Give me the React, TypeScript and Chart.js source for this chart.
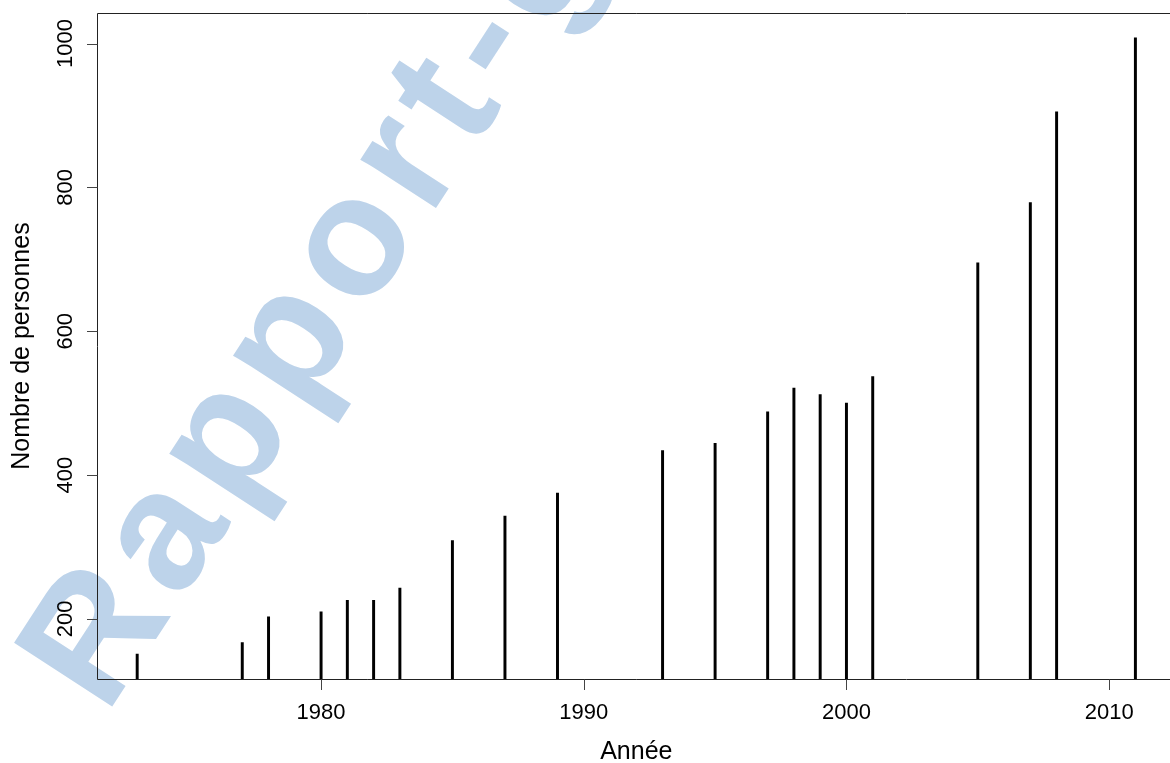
import React, { useEffect, useRef } from 'react';
import { Chart, registerables } from 'chart.js';

Chart.register(...registerables);

const years = [1973, 1977, 1978, 1980, 1981, 1982, 1983, 1985, 1987, 1989, 1993, 1995, 1997, 1998, 1999, 2000, 2001, 2005, 2007, 2008, 2011];
const persons = [151, 167, 203, 210, 226, 226, 243, 309, 343, 375, 434, 444, 488, 521, 512, 500, 537, 695, 779, 905, 1008];
const xTicks = [1980, 1990, 2000, 2010];
const yTicks = [200, 400, 600, 800, 1000];
const xTitle = 'Année';
const yTitle = 'Nombre de personnes';
const watermark = 'Rapport-gratuit.com';

const FONT = '"Liberation Sans", Arial, Helvetica, sans-serif';

const rStyle = {
  id: 'rStyle',
  beforeDraw(chart: any) {
    const ctx = chart.ctx;
    ctx.save();
    ctx.fillStyle = 'rgb(189,211,234)';
    ctx.font = `bold 170px ${FONT}`;
    try { (ctx as any).letterSpacing = '13px'; } catch (e) {}
    ctx.textAlign = 'left';
    ctx.textBaseline = 'alphabetic';
    ctx.translate(106, 716);
    ctx.rotate((-57 * Math.PI) / 180);
    ctx.fillText(watermark, 0, 0);
    ctx.restore();
    try { (ctx as any).letterSpacing = '0px'; } catch (e) {}
  },
  afterDraw(chart: any) {
    const { ctx, chartArea: a, scales } = chart;
    const x = scales.x;
    const y = scales.y;
    ctx.save();
    ctx.strokeStyle = '#222';
    ctx.lineWidth = 1;
    ctx.beginPath();
    ctx.rect(a.left + 0.5, a.top + 0.5, a.right - a.left, a.bottom - a.top);
    ctx.stroke();
    ctx.strokeStyle = '#444';
    ctx.beginPath();
    xTicks.forEach((t) => {
      const px = Math.round(x.getPixelForValue(t)) + 0.5;
      ctx.moveTo(px, a.bottom + 0.5);
      ctx.lineTo(px, a.bottom + 11);
    });
    yTicks.forEach((t) => {
      const py = Math.round(y.getPixelForValue(t)) + 0.5;
      ctx.moveTo(a.left + 0.5, py);
      ctx.lineTo(a.left - 10, py);
    });
    ctx.stroke();
    ctx.fillStyle = '#000';
    ctx.font = `22px ${FONT}`;
    ctx.textAlign = 'center';
    ctx.textBaseline = 'alphabetic';
    xTicks.forEach((t) => {
      ctx.fillText(String(t), x.getPixelForValue(t), 718.5);
    });
    yTicks.forEach((t) => {
      ctx.save();
      ctx.translate(72, y.getPixelForValue(t));
      ctx.rotate(-Math.PI / 2);
      ctx.fillText(String(t), 0, 0);
      ctx.restore();
    });
    ctx.font = `25px ${FONT}`;
    ctx.fillText(xTitle, (a.left + a.right) / 2, 759.3);
    ctx.save();
    ctx.translate(28.5, (a.top + a.bottom) / 2);
    ctx.rotate(-Math.PI / 2);
    ctx.fillText(yTitle, 0, 0);
    ctx.restore();
    ctx.restore();
  },
};

export default function App() {
  const ref = useRef<HTMLCanvasElement | null>(null);
  useEffect(() => {
    if (!ref.current) return;
    const chart = new Chart(ref.current, {
      type: 'bar',
      data: {
        datasets: [
          {
            data: years.map((yr, i) => ({ x: yr, y: persons[i] })),
            backgroundColor: '#000',
            borderWidth: 0,
            barThickness: 2.3,
          } as any,
        ],
      },
      options: {
        animation: false,
        responsive: false,
        devicePixelRatio: 1,
        layout: { padding: { left: 97, top: 13, bottom: 84, right: 4.4 } },
        plugins: { legend: { display: false }, tooltip: { enabled: false } },
        scales: {
          x: { type: 'linear', min: 1971.47, max: 2012.53, offset: false, display: false },
          y: { type: 'linear', min: 116.5, max: 1042.5, display: false },
        },
      },
      plugins: [rStyle],
    });
    return () => chart.destroy();
  }, []);
  return (
    <div style={{ position: 'fixed', left: 0, top: 0, width: 1170, height: 763, overflow: 'hidden', background: '#fff' }}>
      <canvas ref={ref} width={1180} height={763} style={{ width: 1180, height: 763, display: 'block' }} />
    </div>
  );
}
